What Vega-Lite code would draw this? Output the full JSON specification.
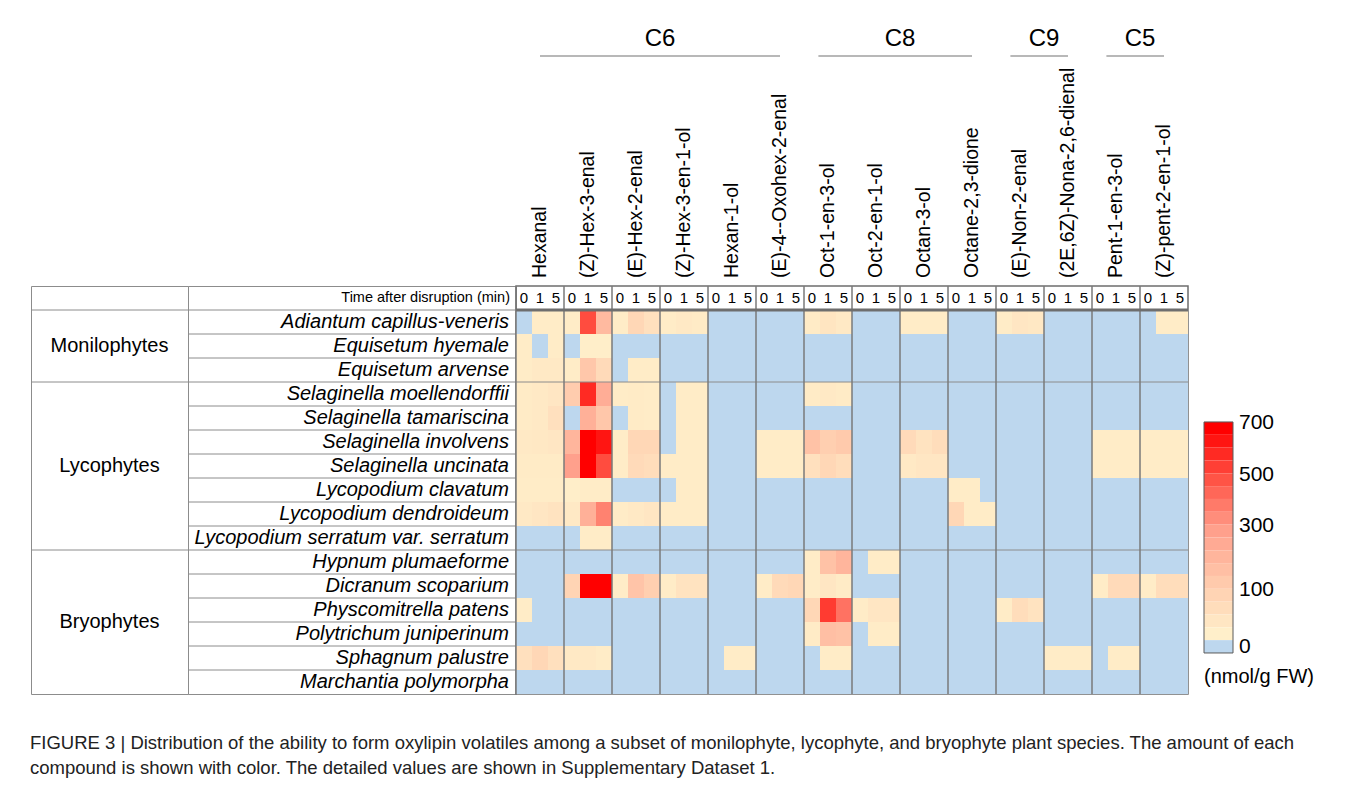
{
"$schema":"https://vega.github.io/schema/vega-lite/v6.json",
"background":"white",
"padding":{"left":30,"top":10,"right":10,"bottom":10},
"config":{"font":"Liberation Sans","view":{"stroke":"#8c8c8c","strokeWidth":1},"text":{"font":"Liberation Sans","color":"black"},"title":{"font":"Liberation Sans"}},
"datasets":{
"species":[{"s":0,"name":"Adiantum capillus-veneris"},{"s":1,"name":"Equisetum hyemale"},{"s":2,"name":"Equisetum arvense"},{"s":3,"name":"Selaginella moellendorffii"},{"s":4,"name":"Selaginella tamariscina"},{"s":5,"name":"Selaginella involvens"},{"s":6,"name":"Selaginella uncinata"},{"s":7,"name":"Lycopodium clavatum"},{"s":8,"name":"Lycopodium dendroideum"},{"s":9,"name":"Lycopodium serratum var. serratum"},{"s":10,"name":"Hypnum plumaeforme"},{"s":11,"name":"Dicranum scoparium"},{"s":12,"name":"Physcomitrella patens"},{"s":13,"name":"Polytrichum juniperinum"},{"s":14,"name":"Sphagnum palustre"},{"s":15,"name":"Marchantia polymorpha"}],
"groups":[{"group":"Monilophytes","first":0,"mid":1},{"group":"Lycophytes","first":3,"mid":6},{"group":"Bryophytes","first":10,"mid":12}],
"compounds":[{"c":0,"name":"Hexanal"},{"c":1,"name":"(Z)-Hex-3-enal"},{"c":2,"name":"(E)-Hex-2-enal"},{"c":3,"name":"(Z)-Hex-3-en-1-ol"},{"c":4,"name":"Hexan-1-ol"},{"c":5,"name":"(E)-4--Oxohex-2-enal"},{"c":6,"name":"Oct-1-en-3-ol"},{"c":7,"name":"Oct-2-en-1-ol"},{"c":8,"name":"Octan-3-ol"},{"c":9,"name":"Octane-2,3-dione"},{"c":10,"name":"(E)-Non-2-enal"},{"c":11,"name":"(2E,6Z)-Nona-2,6-dienal"},{"c":12,"name":"Pent-1-en-3-ol"},{"c":13,"name":"(Z)-pent-2-en-1-ol"}],
"carbon":[{"g":"C6","from":0,"to":5,"at":3},{"g":"C8","from":6,"to":9,"at":8},{"g":"C9","from":10,"to":11,"at":11},{"g":"C5","from":12,"to":13,"at":13}],
"steps":[{"k":"700","v":700,"label":"700"},{"k":"650","v":650},{"k":"600","v":600},{"k":"550","v":550},{"k":"500","v":500,"label":"500"},{"k":"450","v":450},{"k":"400","v":400},{"k":"350","v":350},{"k":"300","v":300,"label":"300"},{"k":"260","v":260},{"k":"220","v":220},{"k":"180","v":180},{"k":"140","v":140},{"k":"100","v":100,"label":"100"},{"k":"70","v":70},{"k":"40","v":40},{"k":"10","v":10},{"k":"0","v":0,"label":"0"}],
"cells":[
{"s":0,"c":0,"t":0,"v":0},{"s":0,"c":0,"t":1,"v":20},{"s":0,"c":0,"t":5,"v":20},{"s":0,"c":1,"t":0,"v":20},{"s":0,"c":1,"t":1,"v":520},{"s":0,"c":1,"t":5,"v":200},{"s":0,"c":2,"t":0,"v":20},{"s":0,"c":2,"t":1,"v":90},{"s":0,"c":2,"t":5,"v":60},{"s":0,"c":3,"t":0,"v":20},{"s":0,"c":3,"t":1,"v":30},{"s":0,"c":3,"t":5,"v":25},{"s":0,"c":4,"t":0,"v":0},{"s":0,"c":4,"t":1,"v":0},{"s":0,"c":4,"t":5,"v":0},{"s":0,"c":5,"t":0,"v":0},{"s":0,"c":5,"t":1,"v":0},{"s":0,"c":5,"t":5,"v":0},{"s":0,"c":6,"t":0,"v":25},{"s":0,"c":6,"t":1,"v":45},{"s":0,"c":6,"t":5,"v":30},{"s":0,"c":7,"t":0,"v":0},{"s":0,"c":7,"t":1,"v":0},{"s":0,"c":7,"t":5,"v":0},{"s":0,"c":8,"t":0,"v":20},{"s":0,"c":8,"t":1,"v":20},{"s":0,"c":8,"t":5,"v":20},{"s":0,"c":9,"t":0,"v":0},{"s":0,"c":9,"t":1,"v":0},{"s":0,"c":9,"t":5,"v":0},{"s":0,"c":10,"t":0,"v":20},{"s":0,"c":10,"t":1,"v":40},{"s":0,"c":10,"t":5,"v":35},{"s":0,"c":11,"t":0,"v":0},{"s":0,"c":11,"t":1,"v":0},{"s":0,"c":11,"t":5,"v":0},{"s":0,"c":12,"t":0,"v":0},{"s":0,"c":12,"t":1,"v":0},{"s":0,"c":12,"t":5,"v":0},{"s":0,"c":13,"t":0,"v":0},{"s":0,"c":13,"t":1,"v":20},{"s":0,"c":13,"t":5,"v":20},
{"s":1,"c":0,"t":0,"v":20},{"s":1,"c":0,"t":1,"v":0},{"s":1,"c":0,"t":5,"v":20},{"s":1,"c":1,"t":0,"v":0},{"s":1,"c":1,"t":1,"v":15},{"s":1,"c":1,"t":5,"v":15},{"s":1,"c":2,"t":0,"v":0},{"s":1,"c":2,"t":1,"v":0},{"s":1,"c":2,"t":5,"v":0},{"s":1,"c":3,"t":0,"v":0},{"s":1,"c":3,"t":1,"v":0},{"s":1,"c":3,"t":5,"v":0},{"s":1,"c":4,"t":0,"v":0},{"s":1,"c":4,"t":1,"v":0},{"s":1,"c":4,"t":5,"v":0},{"s":1,"c":5,"t":0,"v":0},{"s":1,"c":5,"t":1,"v":0},{"s":1,"c":5,"t":5,"v":0},{"s":1,"c":6,"t":0,"v":0},{"s":1,"c":6,"t":1,"v":0},{"s":1,"c":6,"t":5,"v":0},{"s":1,"c":7,"t":0,"v":0},{"s":1,"c":7,"t":1,"v":0},{"s":1,"c":7,"t":5,"v":0},{"s":1,"c":8,"t":0,"v":0},{"s":1,"c":8,"t":1,"v":0},{"s":1,"c":8,"t":5,"v":0},{"s":1,"c":9,"t":0,"v":0},{"s":1,"c":9,"t":1,"v":0},{"s":1,"c":9,"t":5,"v":0},{"s":1,"c":10,"t":0,"v":0},{"s":1,"c":10,"t":1,"v":0},{"s":1,"c":10,"t":5,"v":0},{"s":1,"c":11,"t":0,"v":0},{"s":1,"c":11,"t":1,"v":0},{"s":1,"c":11,"t":5,"v":0},{"s":1,"c":12,"t":0,"v":0},{"s":1,"c":12,"t":1,"v":0},{"s":1,"c":12,"t":5,"v":0},{"s":1,"c":13,"t":0,"v":0},{"s":1,"c":13,"t":1,"v":0},{"s":1,"c":13,"t":5,"v":0},
{"s":2,"c":0,"t":0,"v":20},{"s":2,"c":0,"t":1,"v":30},{"s":2,"c":0,"t":5,"v":30},{"s":2,"c":1,"t":0,"v":20},{"s":2,"c":1,"t":1,"v":150},{"s":2,"c":1,"t":5,"v":80},{"s":2,"c":2,"t":0,"v":0},{"s":2,"c":2,"t":1,"v":20},{"s":2,"c":2,"t":5,"v":20},{"s":2,"c":3,"t":0,"v":0},{"s":2,"c":3,"t":1,"v":0},{"s":2,"c":3,"t":5,"v":0},{"s":2,"c":4,"t":0,"v":0},{"s":2,"c":4,"t":1,"v":0},{"s":2,"c":4,"t":5,"v":0},{"s":2,"c":5,"t":0,"v":0},{"s":2,"c":5,"t":1,"v":0},{"s":2,"c":5,"t":5,"v":0},{"s":2,"c":6,"t":0,"v":0},{"s":2,"c":6,"t":1,"v":0},{"s":2,"c":6,"t":5,"v":0},{"s":2,"c":7,"t":0,"v":0},{"s":2,"c":7,"t":1,"v":0},{"s":2,"c":7,"t":5,"v":0},{"s":2,"c":8,"t":0,"v":0},{"s":2,"c":8,"t":1,"v":0},{"s":2,"c":8,"t":5,"v":0},{"s":2,"c":9,"t":0,"v":0},{"s":2,"c":9,"t":1,"v":0},{"s":2,"c":9,"t":5,"v":0},{"s":2,"c":10,"t":0,"v":0},{"s":2,"c":10,"t":1,"v":0},{"s":2,"c":10,"t":5,"v":0},{"s":2,"c":11,"t":0,"v":0},{"s":2,"c":11,"t":1,"v":0},{"s":2,"c":11,"t":5,"v":0},{"s":2,"c":12,"t":0,"v":0},{"s":2,"c":12,"t":1,"v":0},{"s":2,"c":12,"t":5,"v":0},{"s":2,"c":13,"t":0,"v":0},{"s":2,"c":13,"t":1,"v":0},{"s":2,"c":13,"t":5,"v":0},
{"s":3,"c":0,"t":0,"v":25},{"s":3,"c":0,"t":1,"v":30},{"s":3,"c":0,"t":5,"v":40},{"s":3,"c":1,"t":0,"v":130},{"s":3,"c":1,"t":1,"v":600},{"s":3,"c":1,"t":5,"v":250},{"s":3,"c":2,"t":0,"v":20},{"s":3,"c":2,"t":1,"v":25},{"s":3,"c":2,"t":5,"v":20},{"s":3,"c":3,"t":0,"v":0},{"s":3,"c":3,"t":1,"v":20},{"s":3,"c":3,"t":5,"v":20},{"s":3,"c":4,"t":0,"v":0},{"s":3,"c":4,"t":1,"v":0},{"s":3,"c":4,"t":5,"v":0},{"s":3,"c":5,"t":0,"v":0},{"s":3,"c":5,"t":1,"v":0},{"s":3,"c":5,"t":5,"v":0},{"s":3,"c":6,"t":0,"v":25},{"s":3,"c":6,"t":1,"v":30},{"s":3,"c":6,"t":5,"v":25},{"s":3,"c":7,"t":0,"v":0},{"s":3,"c":7,"t":1,"v":0},{"s":3,"c":7,"t":5,"v":0},{"s":3,"c":8,"t":0,"v":0},{"s":3,"c":8,"t":1,"v":0},{"s":3,"c":8,"t":5,"v":0},{"s":3,"c":9,"t":0,"v":0},{"s":3,"c":9,"t":1,"v":0},{"s":3,"c":9,"t":5,"v":0},{"s":3,"c":10,"t":0,"v":0},{"s":3,"c":10,"t":1,"v":0},{"s":3,"c":10,"t":5,"v":0},{"s":3,"c":11,"t":0,"v":0},{"s":3,"c":11,"t":1,"v":0},{"s":3,"c":11,"t":5,"v":0},{"s":3,"c":12,"t":0,"v":0},{"s":3,"c":12,"t":1,"v":0},{"s":3,"c":12,"t":5,"v":0},{"s":3,"c":13,"t":0,"v":0},{"s":3,"c":13,"t":1,"v":0},{"s":3,"c":13,"t":5,"v":0},
{"s":4,"c":0,"t":0,"v":25},{"s":4,"c":0,"t":1,"v":30},{"s":4,"c":0,"t":5,"v":60},{"s":4,"c":1,"t":0,"v":0},{"s":4,"c":1,"t":1,"v":240},{"s":4,"c":1,"t":5,"v":150},{"s":4,"c":2,"t":0,"v":0},{"s":4,"c":2,"t":1,"v":25},{"s":4,"c":2,"t":5,"v":20},{"s":4,"c":3,"t":0,"v":0},{"s":4,"c":3,"t":1,"v":20},{"s":4,"c":3,"t":5,"v":20},{"s":4,"c":4,"t":0,"v":0},{"s":4,"c":4,"t":1,"v":0},{"s":4,"c":4,"t":5,"v":0},{"s":4,"c":5,"t":0,"v":0},{"s":4,"c":5,"t":1,"v":0},{"s":4,"c":5,"t":5,"v":0},{"s":4,"c":6,"t":0,"v":0},{"s":4,"c":6,"t":1,"v":0},{"s":4,"c":6,"t":5,"v":0},{"s":4,"c":7,"t":0,"v":0},{"s":4,"c":7,"t":1,"v":0},{"s":4,"c":7,"t":5,"v":0},{"s":4,"c":8,"t":0,"v":0},{"s":4,"c":8,"t":1,"v":0},{"s":4,"c":8,"t":5,"v":0},{"s":4,"c":9,"t":0,"v":0},{"s":4,"c":9,"t":1,"v":0},{"s":4,"c":9,"t":5,"v":0},{"s":4,"c":10,"t":0,"v":0},{"s":4,"c":10,"t":1,"v":0},{"s":4,"c":10,"t":5,"v":0},{"s":4,"c":11,"t":0,"v":0},{"s":4,"c":11,"t":1,"v":0},{"s":4,"c":11,"t":5,"v":0},{"s":4,"c":12,"t":0,"v":0},{"s":4,"c":12,"t":1,"v":0},{"s":4,"c":12,"t":5,"v":0},{"s":4,"c":13,"t":0,"v":0},{"s":4,"c":13,"t":1,"v":0},{"s":4,"c":13,"t":5,"v":0},
{"s":5,"c":0,"t":0,"v":30},{"s":5,"c":0,"t":1,"v":35},{"s":5,"c":0,"t":5,"v":40},{"s":5,"c":1,"t":0,"v":220},{"s":5,"c":1,"t":1,"v":700},{"s":5,"c":1,"t":5,"v":650},{"s":5,"c":2,"t":0,"v":20},{"s":5,"c":2,"t":1,"v":90},{"s":5,"c":2,"t":5,"v":90},{"s":5,"c":3,"t":0,"v":0},{"s":5,"c":3,"t":1,"v":20},{"s":5,"c":3,"t":5,"v":20},{"s":5,"c":4,"t":0,"v":0},{"s":5,"c":4,"t":1,"v":0},{"s":5,"c":4,"t":5,"v":0},{"s":5,"c":5,"t":0,"v":20},{"s":5,"c":5,"t":1,"v":20},{"s":5,"c":5,"t":5,"v":20},{"s":5,"c":6,"t":0,"v":170},{"s":5,"c":6,"t":1,"v":120},{"s":5,"c":6,"t":5,"v":140},{"s":5,"c":7,"t":0,"v":0},{"s":5,"c":7,"t":1,"v":0},{"s":5,"c":7,"t":5,"v":0},{"s":5,"c":8,"t":0,"v":80},{"s":5,"c":8,"t":1,"v":50},{"s":5,"c":8,"t":5,"v":70},{"s":5,"c":9,"t":0,"v":0},{"s":5,"c":9,"t":1,"v":0},{"s":5,"c":9,"t":5,"v":0},{"s":5,"c":10,"t":0,"v":0},{"s":5,"c":10,"t":1,"v":0},{"s":5,"c":10,"t":5,"v":0},{"s":5,"c":11,"t":0,"v":0},{"s":5,"c":11,"t":1,"v":0},{"s":5,"c":11,"t":5,"v":0},{"s":5,"c":12,"t":0,"v":20},{"s":5,"c":12,"t":1,"v":20},{"s":5,"c":12,"t":5,"v":20},{"s":5,"c":13,"t":0,"v":20},{"s":5,"c":13,"t":1,"v":20},{"s":5,"c":13,"t":5,"v":20},
{"s":6,"c":0,"t":0,"v":25},{"s":6,"c":0,"t":1,"v":25},{"s":6,"c":0,"t":5,"v":25},{"s":6,"c":1,"t":0,"v":300},{"s":6,"c":1,"t":1,"v":700},{"s":6,"c":1,"t":5,"v":520},{"s":6,"c":2,"t":0,"v":20},{"s":6,"c":2,"t":1,"v":80},{"s":6,"c":2,"t":5,"v":70},{"s":6,"c":3,"t":0,"v":20},{"s":6,"c":3,"t":1,"v":20},{"s":6,"c":3,"t":5,"v":20},{"s":6,"c":4,"t":0,"v":0},{"s":6,"c":4,"t":1,"v":0},{"s":6,"c":4,"t":5,"v":0},{"s":6,"c":5,"t":0,"v":20},{"s":6,"c":5,"t":1,"v":20},{"s":6,"c":5,"t":5,"v":20},{"s":6,"c":6,"t":0,"v":60},{"s":6,"c":6,"t":1,"v":90},{"s":6,"c":6,"t":5,"v":70},{"s":6,"c":7,"t":0,"v":0},{"s":6,"c":7,"t":1,"v":0},{"s":6,"c":7,"t":5,"v":0},{"s":6,"c":8,"t":0,"v":30},{"s":6,"c":8,"t":1,"v":40},{"s":6,"c":8,"t":5,"v":40},{"s":6,"c":9,"t":0,"v":0},{"s":6,"c":9,"t":1,"v":0},{"s":6,"c":9,"t":5,"v":0},{"s":6,"c":10,"t":0,"v":0},{"s":6,"c":10,"t":1,"v":0},{"s":6,"c":10,"t":5,"v":0},{"s":6,"c":11,"t":0,"v":0},{"s":6,"c":11,"t":1,"v":0},{"s":6,"c":11,"t":5,"v":0},{"s":6,"c":12,"t":0,"v":20},{"s":6,"c":12,"t":1,"v":20},{"s":6,"c":12,"t":5,"v":20},{"s":6,"c":13,"t":0,"v":20},{"s":6,"c":13,"t":1,"v":20},{"s":6,"c":13,"t":5,"v":20},
{"s":7,"c":0,"t":0,"v":20},{"s":7,"c":0,"t":1,"v":20},{"s":7,"c":0,"t":5,"v":20},{"s":7,"c":1,"t":0,"v":15},{"s":7,"c":1,"t":1,"v":20},{"s":7,"c":1,"t":5,"v":20},{"s":7,"c":2,"t":0,"v":0},{"s":7,"c":2,"t":1,"v":0},{"s":7,"c":2,"t":5,"v":0},{"s":7,"c":3,"t":0,"v":0},{"s":7,"c":3,"t":1,"v":20},{"s":7,"c":3,"t":5,"v":20},{"s":7,"c":4,"t":0,"v":0},{"s":7,"c":4,"t":1,"v":0},{"s":7,"c":4,"t":5,"v":0},{"s":7,"c":5,"t":0,"v":0},{"s":7,"c":5,"t":1,"v":0},{"s":7,"c":5,"t":5,"v":0},{"s":7,"c":6,"t":0,"v":0},{"s":7,"c":6,"t":1,"v":0},{"s":7,"c":6,"t":5,"v":0},{"s":7,"c":7,"t":0,"v":0},{"s":7,"c":7,"t":1,"v":0},{"s":7,"c":7,"t":5,"v":0},{"s":7,"c":8,"t":0,"v":0},{"s":7,"c":8,"t":1,"v":0},{"s":7,"c":8,"t":5,"v":0},{"s":7,"c":9,"t":0,"v":20},{"s":7,"c":9,"t":1,"v":20},{"s":7,"c":9,"t":5,"v":0},{"s":7,"c":10,"t":0,"v":0},{"s":7,"c":10,"t":1,"v":0},{"s":7,"c":10,"t":5,"v":0},{"s":7,"c":11,"t":0,"v":0},{"s":7,"c":11,"t":1,"v":0},{"s":7,"c":11,"t":5,"v":0},{"s":7,"c":12,"t":0,"v":0},{"s":7,"c":12,"t":1,"v":0},{"s":7,"c":12,"t":5,"v":0},{"s":7,"c":13,"t":0,"v":0},{"s":7,"c":13,"t":1,"v":0},{"s":7,"c":13,"t":5,"v":0},
{"s":8,"c":0,"t":0,"v":30},{"s":8,"c":0,"t":1,"v":40},{"s":8,"c":0,"t":5,"v":50},{"s":8,"c":1,"t":0,"v":30},{"s":8,"c":1,"t":1,"v":240},{"s":8,"c":1,"t":5,"v":380},{"s":8,"c":2,"t":0,"v":20},{"s":8,"c":2,"t":1,"v":30},{"s":8,"c":2,"t":5,"v":40},{"s":8,"c":3,"t":0,"v":20},{"s":8,"c":3,"t":1,"v":20},{"s":8,"c":3,"t":5,"v":20},{"s":8,"c":4,"t":0,"v":0},{"s":8,"c":4,"t":1,"v":0},{"s":8,"c":4,"t":5,"v":0},{"s":8,"c":5,"t":0,"v":0},{"s":8,"c":5,"t":1,"v":0},{"s":8,"c":5,"t":5,"v":0},{"s":8,"c":6,"t":0,"v":0},{"s":8,"c":6,"t":1,"v":0},{"s":8,"c":6,"t":5,"v":0},{"s":8,"c":7,"t":0,"v":0},{"s":8,"c":7,"t":1,"v":0},{"s":8,"c":7,"t":5,"v":0},{"s":8,"c":8,"t":0,"v":0},{"s":8,"c":8,"t":1,"v":0},{"s":8,"c":8,"t":5,"v":0},{"s":8,"c":9,"t":0,"v":90},{"s":8,"c":9,"t":1,"v":20},{"s":8,"c":9,"t":5,"v":20},{"s":8,"c":10,"t":0,"v":0},{"s":8,"c":10,"t":1,"v":0},{"s":8,"c":10,"t":5,"v":0},{"s":8,"c":11,"t":0,"v":0},{"s":8,"c":11,"t":1,"v":0},{"s":8,"c":11,"t":5,"v":0},{"s":8,"c":12,"t":0,"v":0},{"s":8,"c":12,"t":1,"v":0},{"s":8,"c":12,"t":5,"v":0},{"s":8,"c":13,"t":0,"v":0},{"s":8,"c":13,"t":1,"v":0},{"s":8,"c":13,"t":5,"v":0},
{"s":9,"c":0,"t":0,"v":0},{"s":9,"c":0,"t":1,"v":0},{"s":9,"c":0,"t":5,"v":0},{"s":9,"c":1,"t":0,"v":0},{"s":9,"c":1,"t":1,"v":20},{"s":9,"c":1,"t":5,"v":20},{"s":9,"c":2,"t":0,"v":0},{"s":9,"c":2,"t":1,"v":0},{"s":9,"c":2,"t":5,"v":0},{"s":9,"c":3,"t":0,"v":0},{"s":9,"c":3,"t":1,"v":0},{"s":9,"c":3,"t":5,"v":0},{"s":9,"c":4,"t":0,"v":0},{"s":9,"c":4,"t":1,"v":0},{"s":9,"c":4,"t":5,"v":0},{"s":9,"c":5,"t":0,"v":0},{"s":9,"c":5,"t":1,"v":0},{"s":9,"c":5,"t":5,"v":0},{"s":9,"c":6,"t":0,"v":0},{"s":9,"c":6,"t":1,"v":0},{"s":9,"c":6,"t":5,"v":0},{"s":9,"c":7,"t":0,"v":0},{"s":9,"c":7,"t":1,"v":0},{"s":9,"c":7,"t":5,"v":0},{"s":9,"c":8,"t":0,"v":0},{"s":9,"c":8,"t":1,"v":0},{"s":9,"c":8,"t":5,"v":0},{"s":9,"c":9,"t":0,"v":0},{"s":9,"c":9,"t":1,"v":0},{"s":9,"c":9,"t":5,"v":0},{"s":9,"c":10,"t":0,"v":0},{"s":9,"c":10,"t":1,"v":0},{"s":9,"c":10,"t":5,"v":0},{"s":9,"c":11,"t":0,"v":0},{"s":9,"c":11,"t":1,"v":0},{"s":9,"c":11,"t":5,"v":0},{"s":9,"c":12,"t":0,"v":0},{"s":9,"c":12,"t":1,"v":0},{"s":9,"c":12,"t":5,"v":0},{"s":9,"c":13,"t":0,"v":0},{"s":9,"c":13,"t":1,"v":0},{"s":9,"c":13,"t":5,"v":0},
{"s":10,"c":0,"t":0,"v":0},{"s":10,"c":0,"t":1,"v":0},{"s":10,"c":0,"t":5,"v":0},{"s":10,"c":1,"t":0,"v":0},{"s":10,"c":1,"t":1,"v":0},{"s":10,"c":1,"t":5,"v":0},{"s":10,"c":2,"t":0,"v":0},{"s":10,"c":2,"t":1,"v":0},{"s":10,"c":2,"t":5,"v":0},{"s":10,"c":3,"t":0,"v":0},{"s":10,"c":3,"t":1,"v":0},{"s":10,"c":3,"t":5,"v":0},{"s":10,"c":4,"t":0,"v":0},{"s":10,"c":4,"t":1,"v":0},{"s":10,"c":4,"t":5,"v":0},{"s":10,"c":5,"t":0,"v":0},{"s":10,"c":5,"t":1,"v":0},{"s":10,"c":5,"t":5,"v":0},{"s":10,"c":6,"t":0,"v":20},{"s":10,"c":6,"t":1,"v":170},{"s":10,"c":6,"t":5,"v":220},{"s":10,"c":7,"t":0,"v":0},{"s":10,"c":7,"t":1,"v":20},{"s":10,"c":7,"t":5,"v":20},{"s":10,"c":8,"t":0,"v":0},{"s":10,"c":8,"t":1,"v":0},{"s":10,"c":8,"t":5,"v":0},{"s":10,"c":9,"t":0,"v":0},{"s":10,"c":9,"t":1,"v":0},{"s":10,"c":9,"t":5,"v":0},{"s":10,"c":10,"t":0,"v":0},{"s":10,"c":10,"t":1,"v":0},{"s":10,"c":10,"t":5,"v":0},{"s":10,"c":11,"t":0,"v":0},{"s":10,"c":11,"t":1,"v":0},{"s":10,"c":11,"t":5,"v":0},{"s":10,"c":12,"t":0,"v":0},{"s":10,"c":12,"t":1,"v":0},{"s":10,"c":12,"t":5,"v":0},{"s":10,"c":13,"t":0,"v":0},{"s":10,"c":13,"t":1,"v":0},{"s":10,"c":13,"t":5,"v":0},
{"s":11,"c":0,"t":0,"v":0},{"s":11,"c":0,"t":1,"v":0},{"s":11,"c":0,"t":5,"v":0},{"s":11,"c":1,"t":0,"v":100},{"s":11,"c":1,"t":1,"v":700},{"s":11,"c":1,"t":5,"v":700},{"s":11,"c":2,"t":0,"v":20},{"s":11,"c":2,"t":1,"v":160},{"s":11,"c":2,"t":5,"v":120},{"s":11,"c":3,"t":0,"v":20},{"s":11,"c":3,"t":1,"v":50},{"s":11,"c":3,"t":5,"v":50},{"s":11,"c":4,"t":0,"v":0},{"s":11,"c":4,"t":1,"v":0},{"s":11,"c":4,"t":5,"v":0},{"s":11,"c":5,"t":0,"v":20},{"s":11,"c":5,"t":1,"v":80},{"s":11,"c":5,"t":5,"v":90},{"s":11,"c":6,"t":0,"v":20},{"s":11,"c":6,"t":1,"v":40},{"s":11,"c":6,"t":5,"v":25},{"s":11,"c":7,"t":0,"v":0},{"s":11,"c":7,"t":1,"v":0},{"s":11,"c":7,"t":5,"v":0},{"s":11,"c":8,"t":0,"v":0},{"s":11,"c":8,"t":1,"v":0},{"s":11,"c":8,"t":5,"v":0},{"s":11,"c":9,"t":0,"v":0},{"s":11,"c":9,"t":1,"v":0},{"s":11,"c":9,"t":5,"v":0},{"s":11,"c":10,"t":0,"v":0},{"s":11,"c":10,"t":1,"v":0},{"s":11,"c":10,"t":5,"v":0},{"s":11,"c":11,"t":0,"v":0},{"s":11,"c":11,"t":1,"v":0},{"s":11,"c":11,"t":5,"v":0},{"s":11,"c":12,"t":0,"v":20},{"s":11,"c":12,"t":1,"v":80},{"s":11,"c":12,"t":5,"v":80},{"s":11,"c":13,"t":0,"v":20},{"s":11,"c":13,"t":1,"v":70},{"s":11,"c":13,"t":5,"v":70},
{"s":12,"c":0,"t":0,"v":20},{"s":12,"c":0,"t":1,"v":0},{"s":12,"c":0,"t":5,"v":0},{"s":12,"c":1,"t":0,"v":0},{"s":12,"c":1,"t":1,"v":0},{"s":12,"c":1,"t":5,"v":0},{"s":12,"c":2,"t":0,"v":0},{"s":12,"c":2,"t":1,"v":0},{"s":12,"c":2,"t":5,"v":0},{"s":12,"c":3,"t":0,"v":0},{"s":12,"c":3,"t":1,"v":0},{"s":12,"c":3,"t":5,"v":0},{"s":12,"c":4,"t":0,"v":0},{"s":12,"c":4,"t":1,"v":0},{"s":12,"c":4,"t":5,"v":0},{"s":12,"c":5,"t":0,"v":0},{"s":12,"c":5,"t":1,"v":0},{"s":12,"c":5,"t":5,"v":0},{"s":12,"c":6,"t":0,"v":90},{"s":12,"c":6,"t":1,"v":560},{"s":12,"c":6,"t":5,"v":420},{"s":12,"c":7,"t":0,"v":20},{"s":12,"c":7,"t":1,"v":40},{"s":12,"c":7,"t":5,"v":40},{"s":12,"c":8,"t":0,"v":0},{"s":12,"c":8,"t":1,"v":0},{"s":12,"c":8,"t":5,"v":0},{"s":12,"c":9,"t":0,"v":0},{"s":12,"c":9,"t":1,"v":0},{"s":12,"c":9,"t":5,"v":0},{"s":12,"c":10,"t":0,"v":20},{"s":12,"c":10,"t":1,"v":70},{"s":12,"c":10,"t":5,"v":50},{"s":12,"c":11,"t":0,"v":0},{"s":12,"c":11,"t":1,"v":0},{"s":12,"c":11,"t":5,"v":0},{"s":12,"c":12,"t":0,"v":0},{"s":12,"c":12,"t":1,"v":0},{"s":12,"c":12,"t":5,"v":0},{"s":12,"c":13,"t":0,"v":0},{"s":12,"c":13,"t":1,"v":0},{"s":12,"c":13,"t":5,"v":0},
{"s":13,"c":0,"t":0,"v":0},{"s":13,"c":0,"t":1,"v":0},{"s":13,"c":0,"t":5,"v":0},{"s":13,"c":1,"t":0,"v":0},{"s":13,"c":1,"t":1,"v":0},{"s":13,"c":1,"t":5,"v":0},{"s":13,"c":2,"t":0,"v":0},{"s":13,"c":2,"t":1,"v":0},{"s":13,"c":2,"t":5,"v":0},{"s":13,"c":3,"t":0,"v":0},{"s":13,"c":3,"t":1,"v":0},{"s":13,"c":3,"t":5,"v":0},{"s":13,"c":4,"t":0,"v":0},{"s":13,"c":4,"t":1,"v":0},{"s":13,"c":4,"t":5,"v":0},{"s":13,"c":5,"t":0,"v":0},{"s":13,"c":5,"t":1,"v":0},{"s":13,"c":5,"t":5,"v":0},{"s":13,"c":6,"t":0,"v":25},{"s":13,"c":6,"t":1,"v":180},{"s":13,"c":6,"t":5,"v":170},{"s":13,"c":7,"t":0,"v":0},{"s":13,"c":7,"t":1,"v":20},{"s":13,"c":7,"t":5,"v":20},{"s":13,"c":8,"t":0,"v":0},{"s":13,"c":8,"t":1,"v":0},{"s":13,"c":8,"t":5,"v":0},{"s":13,"c":9,"t":0,"v":0},{"s":13,"c":9,"t":1,"v":0},{"s":13,"c":9,"t":5,"v":0},{"s":13,"c":10,"t":0,"v":0},{"s":13,"c":10,"t":1,"v":0},{"s":13,"c":10,"t":5,"v":0},{"s":13,"c":11,"t":0,"v":0},{"s":13,"c":11,"t":1,"v":0},{"s":13,"c":11,"t":5,"v":0},{"s":13,"c":12,"t":0,"v":0},{"s":13,"c":12,"t":1,"v":0},{"s":13,"c":12,"t":5,"v":0},{"s":13,"c":13,"t":0,"v":0},{"s":13,"c":13,"t":1,"v":0},{"s":13,"c":13,"t":5,"v":0},
{"s":14,"c":0,"t":0,"v":60},{"s":14,"c":0,"t":1,"v":90},{"s":14,"c":0,"t":5,"v":60},{"s":14,"c":1,"t":0,"v":30},{"s":14,"c":1,"t":1,"v":30},{"s":14,"c":1,"t":5,"v":20},{"s":14,"c":2,"t":0,"v":0},{"s":14,"c":2,"t":1,"v":0},{"s":14,"c":2,"t":5,"v":0},{"s":14,"c":3,"t":0,"v":0},{"s":14,"c":3,"t":1,"v":0},{"s":14,"c":3,"t":5,"v":0},{"s":14,"c":4,"t":0,"v":0},{"s":14,"c":4,"t":1,"v":20},{"s":14,"c":4,"t":5,"v":20},{"s":14,"c":5,"t":0,"v":0},{"s":14,"c":5,"t":1,"v":0},{"s":14,"c":5,"t":5,"v":0},{"s":14,"c":6,"t":0,"v":0},{"s":14,"c":6,"t":1,"v":20},{"s":14,"c":6,"t":5,"v":20},{"s":14,"c":7,"t":0,"v":0},{"s":14,"c":7,"t":1,"v":0},{"s":14,"c":7,"t":5,"v":0},{"s":14,"c":8,"t":0,"v":0},{"s":14,"c":8,"t":1,"v":0},{"s":14,"c":8,"t":5,"v":0},{"s":14,"c":9,"t":0,"v":0},{"s":14,"c":9,"t":1,"v":0},{"s":14,"c":9,"t":5,"v":0},{"s":14,"c":10,"t":0,"v":0},{"s":14,"c":10,"t":1,"v":0},{"s":14,"c":10,"t":5,"v":0},{"s":14,"c":11,"t":0,"v":20},{"s":14,"c":11,"t":1,"v":20},{"s":14,"c":11,"t":5,"v":20},{"s":14,"c":12,"t":0,"v":0},{"s":14,"c":12,"t":1,"v":20},{"s":14,"c":12,"t":5,"v":20},{"s":14,"c":13,"t":0,"v":0},{"s":14,"c":13,"t":1,"v":0},{"s":14,"c":13,"t":5,"v":0},
{"s":15,"c":0,"t":0,"v":0},{"s":15,"c":0,"t":1,"v":0},{"s":15,"c":0,"t":5,"v":0},{"s":15,"c":1,"t":0,"v":0},{"s":15,"c":1,"t":1,"v":0},{"s":15,"c":1,"t":5,"v":0},{"s":15,"c":2,"t":0,"v":0},{"s":15,"c":2,"t":1,"v":0},{"s":15,"c":2,"t":5,"v":0},{"s":15,"c":3,"t":0,"v":0},{"s":15,"c":3,"t":1,"v":0},{"s":15,"c":3,"t":5,"v":0},{"s":15,"c":4,"t":0,"v":0},{"s":15,"c":4,"t":1,"v":0},{"s":15,"c":4,"t":5,"v":0},{"s":15,"c":5,"t":0,"v":0},{"s":15,"c":5,"t":1,"v":0},{"s":15,"c":5,"t":5,"v":0},{"s":15,"c":6,"t":0,"v":0},{"s":15,"c":6,"t":1,"v":0},{"s":15,"c":6,"t":5,"v":0},{"s":15,"c":7,"t":0,"v":0},{"s":15,"c":7,"t":1,"v":0},{"s":15,"c":7,"t":5,"v":0},{"s":15,"c":8,"t":0,"v":0},{"s":15,"c":8,"t":1,"v":0},{"s":15,"c":8,"t":5,"v":0},{"s":15,"c":9,"t":0,"v":0},{"s":15,"c":9,"t":1,"v":0},{"s":15,"c":9,"t":5,"v":0},{"s":15,"c":10,"t":0,"v":0},{"s":15,"c":10,"t":1,"v":0},{"s":15,"c":10,"t":5,"v":0},{"s":15,"c":11,"t":0,"v":0},{"s":15,"c":11,"t":1,"v":0},{"s":15,"c":11,"t":5,"v":0},{"s":15,"c":12,"t":0,"v":0},{"s":15,"c":12,"t":1,"v":0},{"s":15,"c":12,"t":5,"v":0},{"s":15,"c":13,"t":0,"v":0},{"s":15,"c":13,"t":1,"v":0},{"s":15,"c":13,"t":5,"v":0}
]},
"title":{"text":["FIGURE 3 | Distribution of the ability to form oxylipin volatiles among a subset of monilophyte, lycophyte, and bryophyte plant species. The amount of each","compound is shown with color. The detailed values are shown in Supplementary Dataset 1."],"orient":"bottom","anchor":"start","fontSize":18.5,"fontWeight":"normal","lineHeight":25,"offset":38,"color":"#222222"},
"columns":4,
"spacing":0,
"bounds":"flush",
"align":"each",
"concat":[
 {"width":157,"height":276,"view":{"stroke":null},"data":{"values":[{"k":""}]},"mark":{"type":"text"},"encoding":{"text":{"field":"k"}}},
 {"width":328,"height":276,"view":{"stroke":null},"data":{"values":[{"k":""}]},"mark":{"type":"text"},"encoding":{"text":{"field":"k"}}},
 {"width":672,"height":276,"view":{"stroke":null},"layer":[
   {"data":{"name":"carbon"},"transform":[{"filter":"datum.g === 'C6'"}],"mark":{"type":"rule","color":"#a0a0a0","strokeWidth":1.5},"encoding":{"x":{"field":"from","type":"ordinal","bandPosition":0.5,"scale":{"type":"band","domain":[0,1,2,3,4,5,6,7,8,9,10,11,12,13],"paddingInner":0,"paddingOuter":0},"axis":null},"x2":{"field":"to","bandPosition":0.5},"y":{"datum":"C","type":"nominal","bandPosition":1,"scale":{"type":"band","domain":["C","h1","h2","h3","h4","h5"],"paddingInner":0,"paddingOuter":0},"axis":null}}},
   {"data":{"name":"carbon"},"transform":[{"filter":"datum.g !== 'C6'"}],"mark":{"type":"rule","color":"#a0a0a0","strokeWidth":1.5},"encoding":{"x":{"field":"from","type":"ordinal","bandPosition":0.3},"x2":{"field":"to","bandPosition":0.5},"y":{"datum":"C","type":"nominal","bandPosition":1}}},
   {"data":{"name":"carbon"},"mark":{"type":"text","fontSize":24,"align":"center","baseline":"middle"},"encoding":{"x":{"field":"at","type":"ordinal","bandPosition":0},"y":{"datum":"C","type":"nominal","bandPosition":0.62},"text":{"field":"g"}}},
   {"data":{"name":"compounds"},"mark":{"type":"text","fontSize":19.5,"angle":270,"align":"left","baseline":"middle","dx":8},"encoding":{"x":{"field":"c","type":"ordinal"},"y":{"value":"height"},"text":{"field":"name"}}}
 ]},
 {"width":45,"height":276,"view":{"stroke":null},"data":{"values":[{"k":""}]},"mark":{"type":"text"},"encoding":{"text":{"field":"k"}}},
 {"width":157,"height":408,"layer":[
   {"data":{"name":"groups"},"mark":{"type":"rule","color":"#8c8c8c","strokeWidth":1},"encoding":{"y":{"field":"first","type":"ordinal","bandPosition":0,"scale":{"type":"band","domain":[-1,0,1,2,3,4,5,6,7,8,9,10,11,12,13,14,15],"paddingInner":0,"paddingOuter":0},"axis":null}}},
   {"data":{"name":"groups"},"transform":[{"filter":"datum.group !== 'Bryophytes'"}],"mark":{"type":"text","fontSize":20,"baseline":"middle","align":"center"},"encoding":{"y":{"field":"mid","type":"ordinal","bandPosition":0.5},"text":{"field":"group"}}},
   {"data":{"name":"groups"},"transform":[{"filter":"datum.group === 'Bryophytes'"}],"mark":{"type":"text","fontSize":20,"baseline":"middle","align":"center"},"encoding":{"y":{"field":"mid","type":"ordinal","bandPosition":1},"text":{"field":"group"}}}
 ]},
 {"width":328,"height":408,"layer":[
   {"data":{"name":"species"},"mark":{"type":"rule","color":"#8c8c8c","strokeWidth":1},"encoding":{"y":{"field":"s","type":"ordinal","bandPosition":0,"scale":{"type":"band","domain":[-1,0,1,2,3,4,5,6,7,8,9,10,11,12,13,14,15],"paddingInner":0,"paddingOuter":0},"axis":null}}},
   {"data":{"name":"species"},"mark":{"type":"text","fontSize":20,"fontStyle":"italic","align":"right","baseline":"middle","dx":-7},"encoding":{"y":{"field":"s","type":"ordinal","bandPosition":0.5},"x":{"value":"width"},"text":{"field":"name"}}},
   {"data":{"values":[{"label":"Time after disruption (min)"}]},"mark":{"type":"text","fontSize":14.5,"align":"right","baseline":"middle","dx":-6},"encoding":{"y":{"datum":-1,"type":"ordinal","bandPosition":0.5},"x":{"value":"width"},"text":{"field":"label"}}}
 ]},
 {"width":672,"height":408,"view":{"stroke":"#6e6e6e","strokeWidth":1.5},"layer":[
   {"data":{"name":"cells"},"mark":{"type":"rect"},"encoding":{
     "x":{"field":"c","type":"ordinal","scale":{"type":"band","domain":[0,1,2,3,4,5,6,7,8,9,10,11,12,13],"paddingInner":0,"paddingOuter":0},"axis":null},
     "xOffset":{"field":"t","type":"ordinal","scale":{"domain":[0,1,5],"paddingInner":0,"paddingOuter":0}},
     "y":{"field":"s","type":"ordinal","scale":{"type":"band","domain":[-1,0,1,2,3,4,5,6,7,8,9,10,11,12,13,14,15],"paddingInner":0,"paddingOuter":0},"axis":null},
     "color":{"field":"v","type":"quantitative","scale":{"domain":[0,1,100,300,500,700],"range":["#bdd7ee","#fff2cc","#ffd4b4","#ffa08c","#ff5446","#ff0000"],"interpolate":"rgb"},"legend":null}}},
   {"data":{"name":"groups"},"transform":[{"filter":"datum.first > 0"}],"mark":{"type":"rule","color":"#8c8c8c","strokeWidth":1},"encoding":{"y":{"field":"first","type":"ordinal","bandPosition":0}}},
   {"data":{"name":"compounds"},"mark":{"type":"rule","color":"#7a7a7a","strokeWidth":1.5},"encoding":{"x":{"field":"c","type":"ordinal","bandPosition":0}}},
   {"data":{"name":"groups"},"transform":[{"filter":"datum.first === 0"}],"mark":{"type":"rule","color":"#6e6e6e","strokeWidth":3},"encoding":{"y":{"field":"first","type":"ordinal","bandPosition":0}}},
   {"data":{"name":"cells"},"transform":[{"filter":"datum.s === 0"}],"mark":{"type":"text","fontSize":15,"baseline":"middle","align":"center"},"encoding":{"x":{"field":"c","type":"ordinal"},"xOffset":{"field":"t","type":"ordinal"},"y":{"datum":-1,"type":"ordinal"},"text":{"field":"t"}}}
 ]},
 {"width":45,"height":408,"view":{"stroke":null},"layer":[
   {"data":{"name":"steps"},"mark":{"type":"rect"},"encoding":{
     "x":{"datum":"bar","type":"nominal","scale":{"type":"band","domain":["bar"],"paddingInner":0,"paddingOuter":0.2759,"align":1},"axis":null},
     "y":{"field":"k","type":"nominal","scale":{"type":"band","domain":["a1","a2","a3","a4","a5","a6","a7","a8","a9","700","650","600","550","500","450","400","350","300","260","220","180","140","100","70","40","10","0","gap","unit","z"],"paddingInner":0,"paddingOuter":0.896,"align":0.89},"axis":null},
     "color":{"field":"v","type":"quantitative","scale":{"domain":[0,1,100,300,500,700],"range":["#bdd7ee","#fff2cc","#ffd4b4","#ffa08c","#ff5446","#ff0000"],"interpolate":"rgb"},"legend":null}}},
   {"data":{"values":[{"k":"700"}]},"mark":{"type":"rect","fillOpacity":0,"stroke":"#5a5a5a","strokeWidth":1},"encoding":{"x":{"datum":"bar","type":"nominal"},"y":{"datum":"700","type":"nominal","bandPosition":0},"y2":{"datum":"0","bandPosition":1}}},
   {"data":{"name":"steps"},"transform":[{"filter":"datum.label && datum.v > 0"}],"mark":{"type":"text","fontSize":21,"align":"left","baseline":"middle","dx":6,"dy":-5},"encoding":{"y":{"field":"k","type":"nominal","bandPosition":0.5},"x":{"value":"width"},"text":{"field":"label"}}},
   {"data":{"name":"steps"},"transform":[{"filter":"datum.v === 0"}],"mark":{"type":"text","fontSize":21,"align":"left","baseline":"middle","dx":6},"encoding":{"y":{"field":"k","type":"nominal","bandPosition":0.5},"x":{"value":"width"},"text":{"field":"label"}}},
   {"data":{"values":[{"k":"unit","label":"(nmol/g FW)"}]},"mark":{"type":"text","fontSize":20,"align":"left","baseline":"middle","dy":5},"encoding":{"y":{"field":"k","type":"nominal","bandPosition":0.5},"x":{"datum":"bar","type":"nominal","bandPosition":0},"text":{"field":"label"}}}
 ]}
]
}
